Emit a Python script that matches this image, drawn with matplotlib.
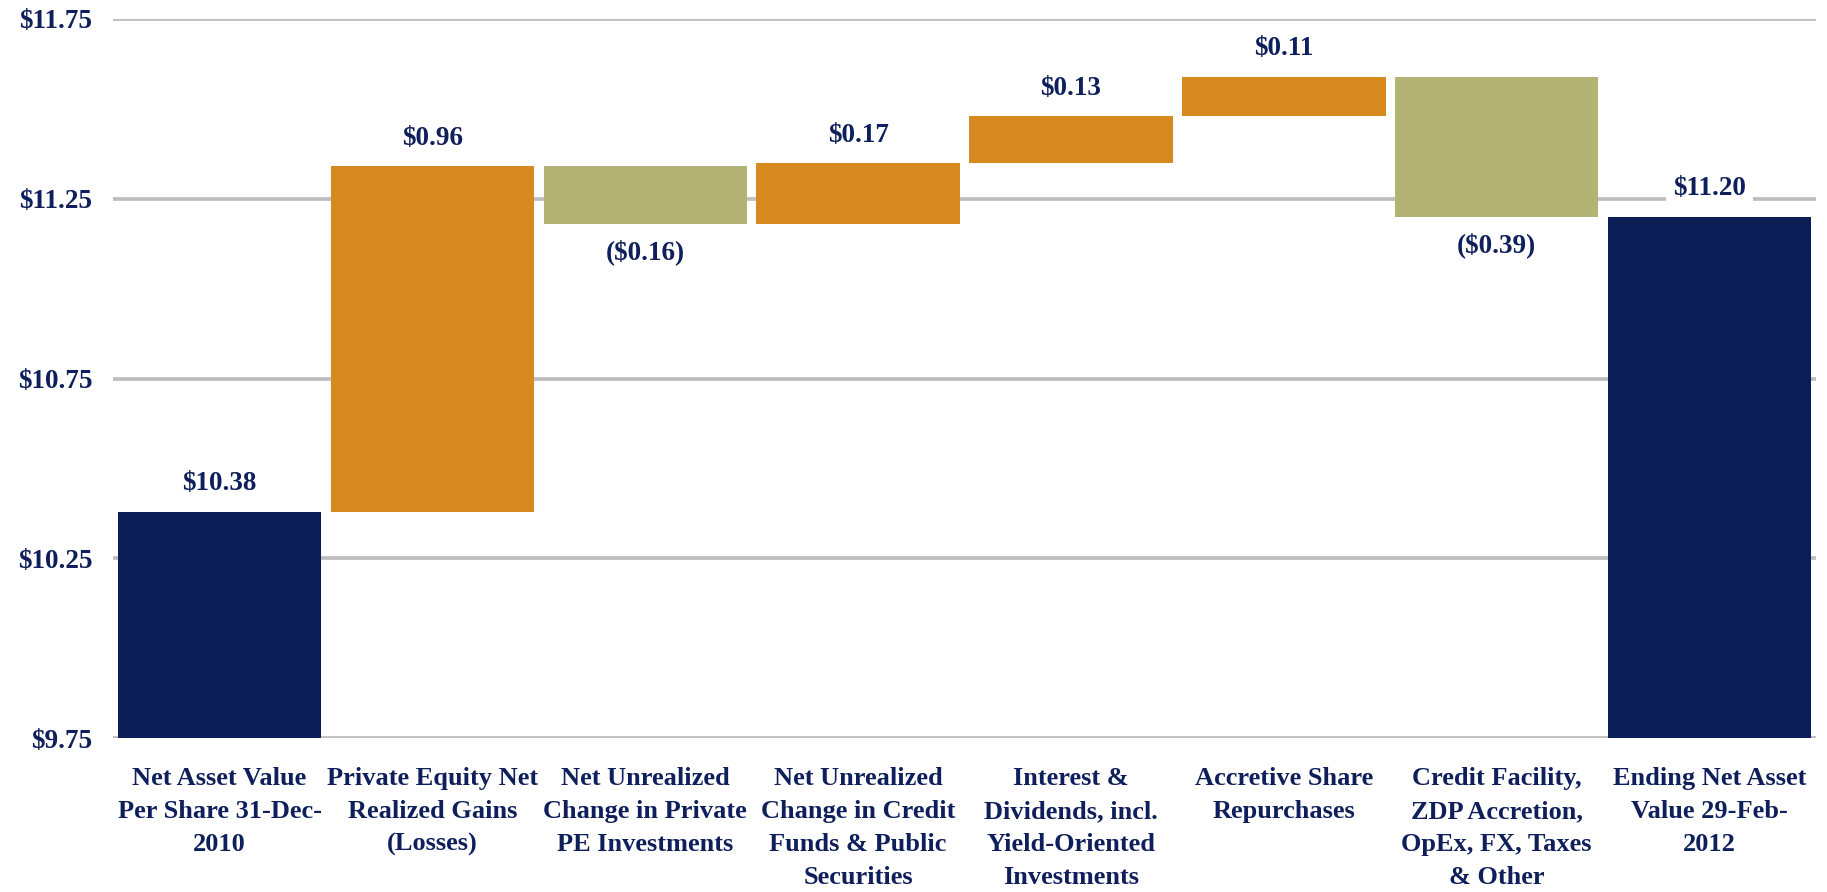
import numpy as np
import matplotlib
matplotlib.use('Agg')
import matplotlib.pyplot as plt

plt.rcParams['font.family'] = ['Liberation Serif', 'DejaVu Serif']
plt.rcParams['font.weight'] = 'bold'

categories = ['Net Asset Value\nPer Share 31-Dec-\n2010',
              'Private Equity Net\nRealized Gains\n(Losses)',
              'Net Unrealized\nChange in Private\nPE Investments',
              'Net Unrealized\nChange in Credit\nFunds & Public\nSecurities',
              'Interest &\nDividends, incl.\nYield-Oriented\nInvestments',
              'Accretive Share\nRepurchases',
              'Credit Facility,\nZDP Accretion,\nOpEx, FX, Taxes\n& Other',
              'Ending Net Asset\nValue 29-Feb-\n2012']
start_nav = 10.38
changes = [0.96, -0.16, 0.17, 0.13, 0.11, -0.39]
end_nav = 11.20
yticks = [9.75, 10.25, 10.75, 11.25, 11.75]

navy = '#0B1F56'
orange = '#D6891F'
olive = '#B3B376'
text_col = '#0E1F5B'

fig = plt.figure(figsize=(18.27, 8.92), dpi=100)
ax = fig.add_axes([0.0619, 0.1726, 0.9321, 0.8061])

x = np.arange(len(categories))
width = 0.955

# grid behind the bars
for t in yticks:
    ax.axhline(t, color='#BEBEBE', lw=2.7, zorder=0, solid_capstyle='round')

# starting bar
ax.bar(x[0], start_nav, width=width, color=navy, zorder=2)
ax.annotate('$%.2f' % start_nav, (x[0], start_nav), xytext=(0, 11),
            textcoords='offset points', ha='center', va='bottom',
            fontsize=19.5, color=text_col, fontweight='bold')

level = start_nav
for i, c in enumerate(changes):
    xi = x[i + 1]
    col = orange if c > 0 else olive
    ax.bar(xi, c, bottom=level, width=width, color=col, zorder=2)
    new_level = level + c
    if c > 0:
        ax.annotate('$%.2f' % c, (xi, new_level), xytext=(0, 11),
                    textcoords='offset points', ha='center', va='bottom',
                    fontsize=19.5, color=text_col, fontweight='bold')
    else:
        ax.annotate('($%.2f)' % abs(c), (xi, new_level), xytext=(0, -11),
                    textcoords='offset points', ha='center', va='top',
                    fontsize=19.5, color=text_col, fontweight='bold')
    level = new_level

# ending bar
ax.bar(x[-1], end_nav, width=width, color=navy, zorder=2)
ax.annotate('$%.2f' % end_nav, (x[-1], end_nav), xytext=(0, 11),
            textcoords='offset points', ha='center', va='bottom',
            fontsize=19.5, color=text_col, fontweight='bold', zorder=3,
            bbox=dict(boxstyle='square,pad=0.25', fc='white', ec='none'))

ax.set_xlim(-0.5, len(categories) - 0.5)
ax.set_ylim(9.75, 11.75)
ax.set_yticks(yticks)
ax.set_yticklabels(['$%.2f' % t for t in yticks], fontsize=19.5,
                   color=text_col, fontweight='bold')
ax.set_xticks(x)
ax.set_xticklabels(categories, fontsize=19, color=text_col,
                   fontweight='bold', linespacing=1.55)
ax.tick_params(axis='both', length=0)
ax.tick_params(axis='y', pad=15)
ax.tick_params(axis='x', pad=21)
for s in ax.spines.values():
    s.set_visible(False)

fig.savefig('out.png', dpi=100, facecolor='white')
